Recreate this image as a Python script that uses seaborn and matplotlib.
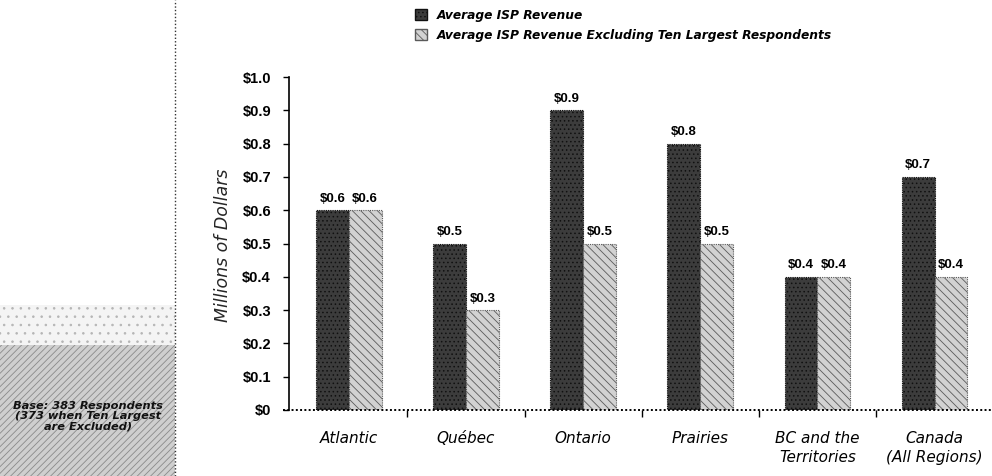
import matplotlib
matplotlib.use("Agg")
import matplotlib.pyplot as plt
from matplotlib.patches import Rectangle, Patch
from matplotlib.lines import Line2D
import seaborn as sns
import pandas as pd

# Regional averages, millions of dollars
regions = ["Atlantic", "Québec", "Ontario", "Prairies",
           "BC and the\nTerritories", "Canada\n(All Regions)"]
avg_revenue = [0.6, 0.5, 0.9, 0.8, 0.4, 0.7]
avg_revenue_excl = [0.6, 0.3, 0.5, 0.5, 0.4, 0.4]
series_names = ["Average ISP Revenue",
                "Average ISP Revenue Excluding Ten Largest Respondents"]
y_ticks = [0, 0.1, 0.2, 0.3, 0.4, 0.5, 0.6, 0.7, 0.8, 0.9, 1.0]
y_tick_labels = ["\\$0", "\\$0.1", "\\$0.2", "\\$0.3", "\\$0.4", "\\$0.5",
                 "\\$0.6", "\\$0.7", "\\$0.8", "\\$0.9", "\\$1.0"]
base_note = "Base: 383 Respondents\n(373 when Ten Largest\nare Excluded)"

sns.set_theme(style="white")
plt.rcParams["font.family"] = ["DejaVu Sans"]
plt.rcParams["hatch.linewidth"] = 0.6
narrow = ["Liberation Sans Narrow", "Liberation Sans", "DejaVu Sans"]

df = pd.DataFrame({
    "region": regions * 2,
    "value": avg_revenue + avg_revenue_excl,
    "series": [series_names[0]] * len(regions) + [series_names[1]] * len(regions),
})

W, H = 992, 476
fig = plt.figure(figsize=(W / 100, H / 100), dpi=100)
ax = fig.add_axes([289 / W, 1 - 410 / H, 1 - 289 / W, (410 - 77) / H])

dark_face, dark_edge = "#3c3c3c", "#101010"
light_face, light_edge = "#d2d2d2", "#5a5a5a"

sns.barplot(data=df, x="region", y="value", hue="series", order=regions,
            hue_order=series_names, palette=[dark_face, light_face],
            width=0.56, gap=0, saturation=1, legend=False, ax=ax)

styles = [(dark_face, dark_edge, "...."), (light_face, light_edge, "\\\\\\\\")]
for container, (fc, ec, hatch) in zip(ax.containers, styles):
    for bar in container:
        bar.set_facecolor(fc)
        bar.set_edgecolor(ec)
        bar.set_hatch(hatch)
        bar.set_linewidth(0.8)
        bar.set_linestyle((0, (1, 1)))
    ax.bar_label(container, labels=[f"\\${v:.1f}" for v in container.datavalues],
                 padding=4, fontsize=9.5, fontweight="bold", family=narrow,
                 color="black")

ax.set_ylim(0, 1.0)
ax.set_xlim(-0.51, 5.49)
ax.set_yticks(y_ticks)
ax.set_yticklabels(y_tick_labels, fontsize=10.5, fontweight="bold", family=narrow)
ax.tick_params(axis="y", which="major", left=True, length=4, width=1,
               color="black", pad=9, labelcolor="black")
ax.set_xticks(range(len(regions)))
ax.set_xticklabels(regions, fontsize=11, style="italic", fontweight="medium",
                   linespacing=1.35)
ax.tick_params(axis="x", which="major", length=0, pad=15, labelcolor="black")
ax.set_xticks([i + 0.5 for i in range(len(regions) - 1)], minor=True)
ax.tick_params(axis="x", which="minor", bottom=True, length=5, width=1,
               color="black")
ax.set_xlabel("")
ax.set_ylabel("")

for side in ["top", "right"]:
    ax.spines[side].set_visible(False)
ax.spines["left"].set_color("black")
ax.spines["left"].set_linewidth(1.2)
ax.spines["bottom"].set_visible(False)
ax.add_line(Line2D([-0.56, 5.49], [0, 0], color="black", linewidth=1.4,
                   linestyle=(0, (1, 1.2)), clip_on=False))
ax.grid(False)

fig.text(223 / W, 1 - 245 / H, "Millions of Dollars", rotation=90,
         ha="center", va="center", fontsize=12.5, style="italic")

handles = [Patch(facecolor=dark_face, edgecolor=dark_edge, hatch="...."),
           Patch(facecolor=light_face, edgecolor=light_edge, hatch="\\\\\\\\")]
leg = fig.legend(handles, series_names, loc="upper left",
                 bbox_to_anchor=(404 / W, 1 + 2 / H), frameon=False,
                 prop={"size": 8.8, "style": "italic", "weight": "bold"},
                 handlelength=1.0, handleheight=1.0, handletextpad=0.8,
                 labelspacing=0.55)
for t in leg.get_texts():
    t.set_color("black")

# Side panel with the respondent base note
panel_w = 175 / W
fig.add_artist(Rectangle((0, 0), panel_w, (476 - 345) / H,
                         transform=fig.transFigure, facecolor="#cfcfcf",
                         edgecolor="#8a8a8a", hatch="/////", linewidth=0))
fig.add_artist(Rectangle((0, (476 - 345) / H), panel_w, 40 / H,
                         transform=fig.transFigure, facecolor="#f4f4f4",
                         edgecolor="#b5b5b5", hatch="..", linewidth=0))
fig.add_artist(Line2D([panel_w, panel_w], [0, 1], transform=fig.transFigure,
                      color="#333333", linewidth=1.0, linestyle=(0, (1, 1.5))))
fig.text(88 / W, 1 - 416 / H, base_note, ha="center", va="center",
         fontsize=8.2, style="italic", fontweight="bold", color="#111111",
         linespacing=1.05)

fig.savefig("out.png", dpi=100)
